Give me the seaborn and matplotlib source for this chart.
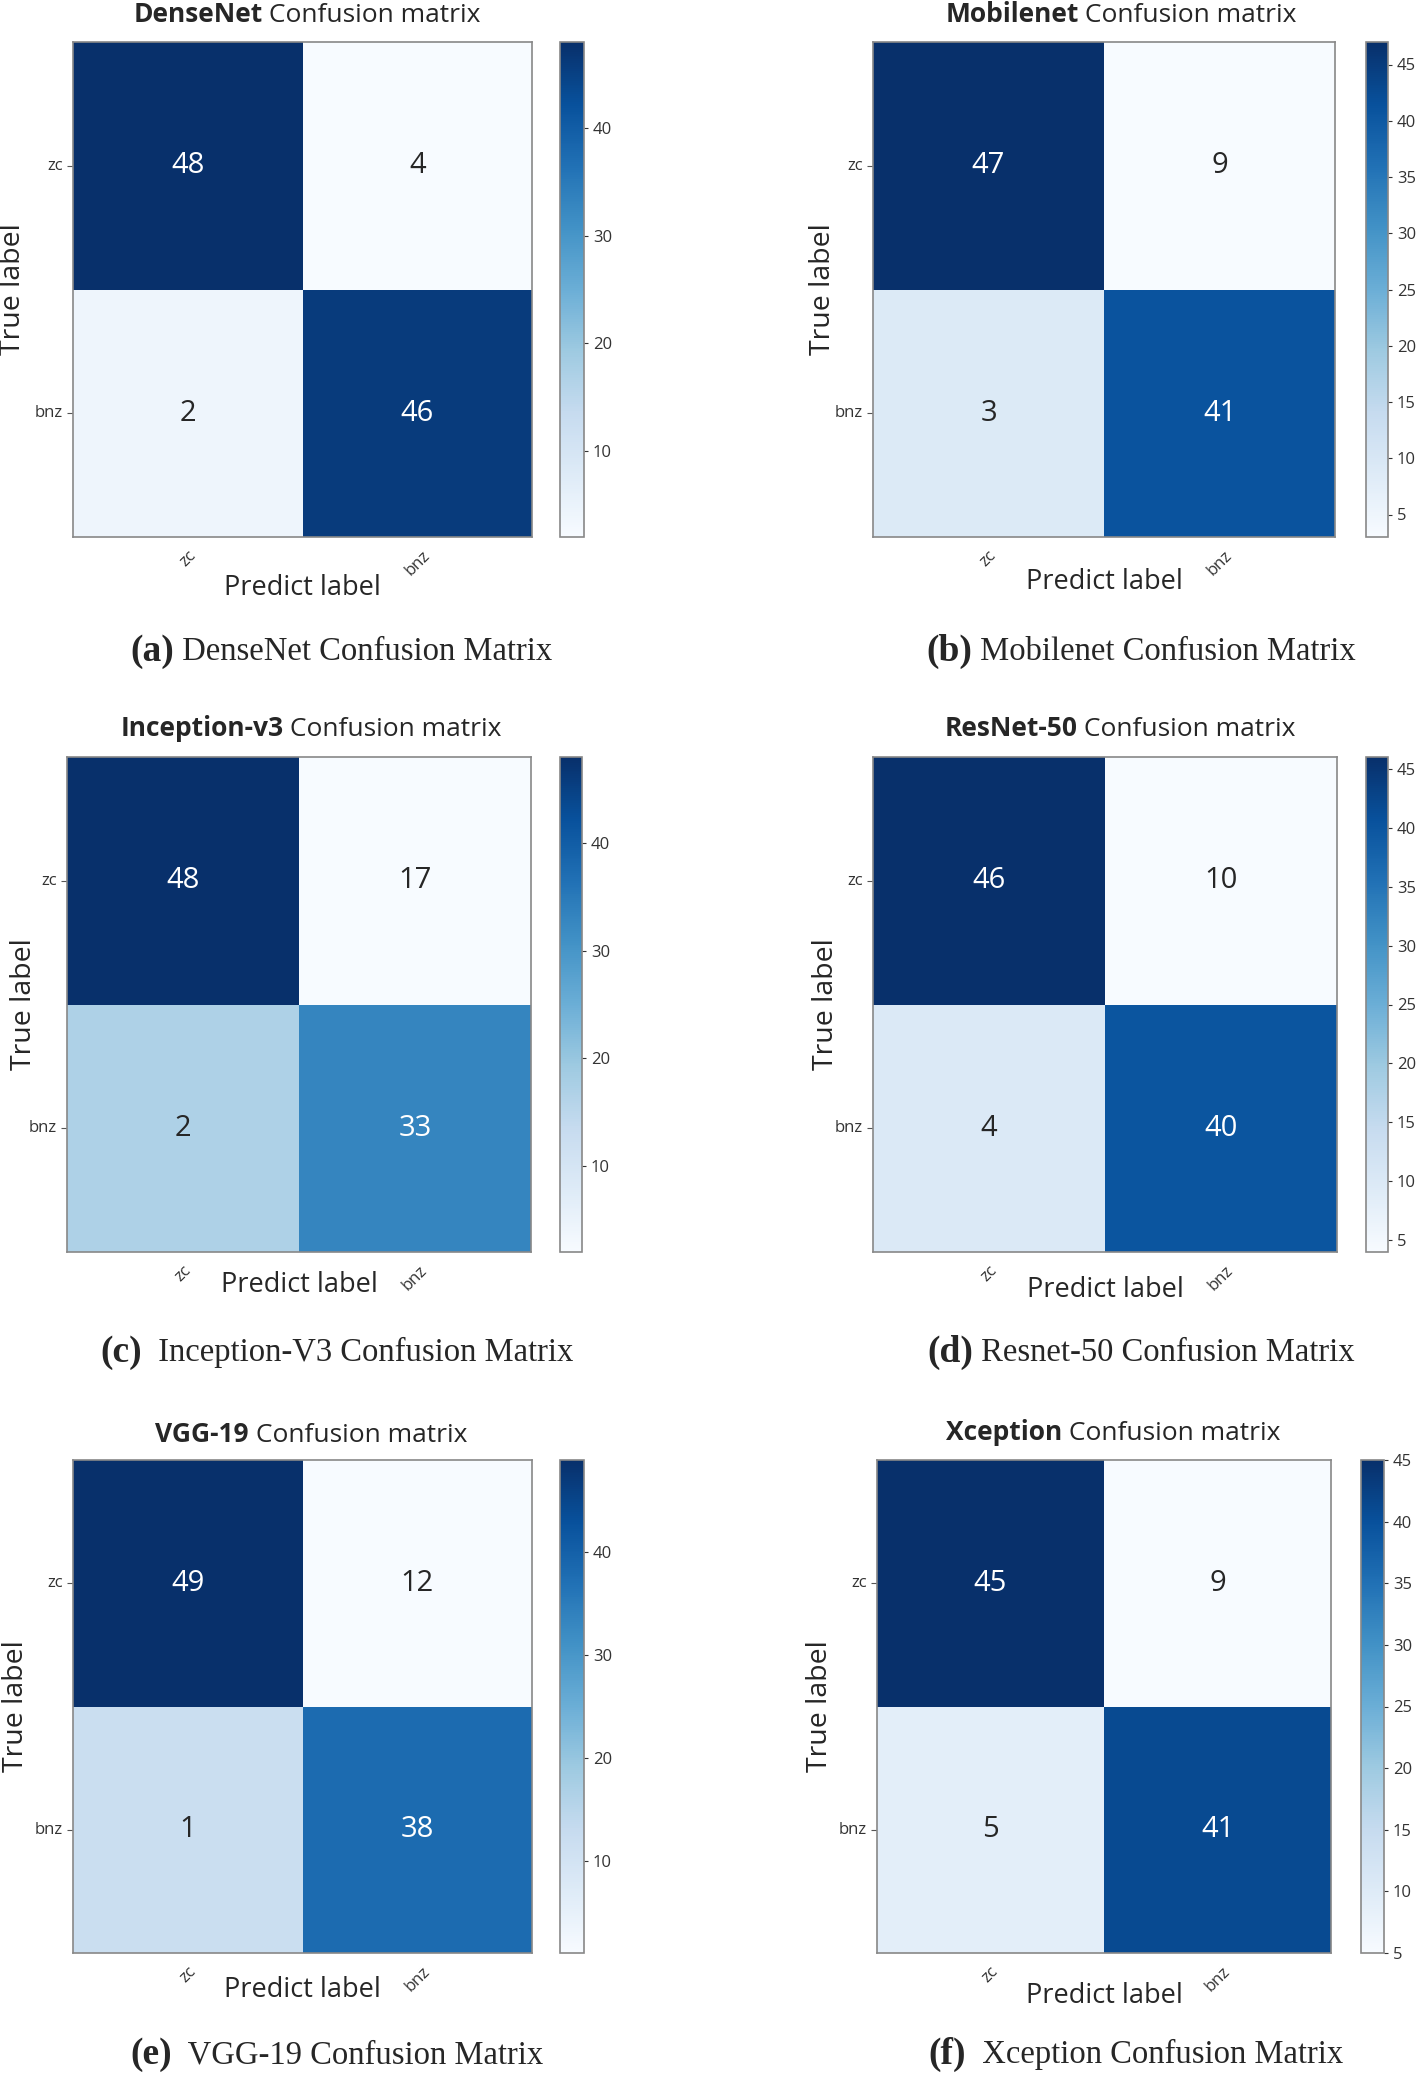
import numpy as np
import matplotlib
matplotlib.use("Agg")
import matplotlib.pyplot as plt
import seaborn as sns
from matplotlib.offsetbox import TextArea, HPacker, AnchoredOffsetbox
from matplotlib.ticker import MultipleLocator

classes = ["zc", "bnz"]
models = ["DenseNet", "Mobilenet", "Inception-v3", "ResNet-50", "VGG-19", "Xception"]
letters = ["(a)", "(b)", "(c)", "(d)", "(e)", "(f)"]
captions = ["DenseNet Confusion Matrix", "Mobilenet Confusion Matrix",
            "Inception-V3 Confusion Matrix", "Resnet-50 Confusion Matrix",
            "VGG-19 Confusion Matrix", "Xception Confusion Matrix"]

# numbers as printed in the cells (row = true label, col = predict label)
densenet = [[48, 4], [2, 46]]
mobilenet = [[47, 9], [3, 41]]
inception = [[48, 17], [2, 33]]
resnet = [[46, 10], [4, 40]]
vgg = [[49, 12], [1, 38]]
xception = [[45, 9], [5, 41]]
matrices = [densenet, mobilenet, inception, resnet, vgg, xception]
cbar_step = [10, 5, 10, 5, 10, 5]

W, H = 1416, 2076
sns.set_style("white")
plt.rcParams["font.family"] = ["Open Sans", "DejaVu Sans"]
fig = plt.figure(figsize=(W / 100, H / 100), dpi=100)

# layout in pixels: (left, top, right, bottom)
heat_px = [(73, 42, 532, 537), (873, 42, 1335, 537), (67, 757, 531, 1252),
           (873, 757, 1337, 1252), (73, 1460, 532, 1953), (877, 1460, 1331, 1953)]
cbar_px = [(560, 42, 584, 537), (1366, 42, 1388, 537), (560, 757, 582, 1252),
           (1366, 757, 1388, 1252), (560, 1460, 584, 1953), (1361, 1460, 1384, 1953)]
ylab_x = [13, 823, 24, 826, 16, 820]
xlab_y = [588, 582, 1285, 1290, 1990, 1996]
title_xy = [(307, 15), (1121, 15), (311, 728), (1120, 729), (311, 1435), (1113, 1433)]
cap_xy = [(341, 651), (1141, 651), (337, 1352), (1141, 1352), (337, 2054), (1136, 2054)]
cap_gap = [" ", " ", "  ", " ", "  ", "  "]


def px_axes(box):
    l, t, r, b = box
    return fig.add_axes([l / W, 1 - b / H, (r - l) / W, (b - t) / H])


def two_part(xy, first, rest, size, family, first_size=None):
    ta = TextArea(first, textprops=dict(fontsize=first_size or size, fontweight="bold", family=family))
    tb = TextArea(rest, textprops=dict(fontsize=size, family=family))
    box = HPacker(children=[ta, tb], align="baseline", pad=0, sep=0)
    anch = AnchoredOffsetbox(loc="center", child=box, pad=0, borderpad=0, frameon=False,
                             bbox_to_anchor=(xy[0] / W, 1 - xy[1] / H),
                             bbox_transform=fig.transFigure)
    fig.add_artist(anch)


for i, vals in enumerate(matrices):
    ax = px_axes(heat_px[i])
    cax = px_axes(cbar_px[i])
    shown = np.array(vals)
    # the original colours the cells from the transposed matrix
    sns.heatmap(shown.T, annot=shown, fmt="d", cmap="Blues", ax=ax, cbar_ax=cax,
                xticklabels=classes, yticklabels=classes, linewidths=0,
                annot_kws={"fontsize": 21})
    ax.set_xticklabels(classes, rotation=45, ha="center", fontsize=12, color="#333333")
    ax.set_yticklabels(classes, rotation=0, fontsize=12, color="#333333")
    ax.tick_params(left=True, bottom=False, length=4, width=0.8, color="#555555")
    for sp in ax.spines.values():
        sp.set_visible(True)
        sp.set_color("#888888")
        sp.set_linewidth(1.2)

    ax.set_ylabel("True label", fontsize=20.5)
    ax.yaxis.set_label_coords(ylab_x[i] / W, 1 - (heat_px[i][1] + heat_px[i][3]) / 2 / H,
                              transform=fig.transFigure)
    ax.yaxis.label.set_va("center")
    ax.set_xlabel("Predict label", fontsize=19.5)
    ax.xaxis.set_label_coords((heat_px[i][0] + heat_px[i][2]) / 2 / W, 1 - xlab_y[i] / H,
                              transform=fig.transFigure)
    ax.xaxis.label.set_va("center")

    cb = ax.collections[0].colorbar
    cb.locator = MultipleLocator(cbar_step[i])
    cb.update_ticks()
    cax.tick_params(labelsize=12, length=3, width=0.8, colors="#333333")
    cb.outline.set_edgecolor("#888888")
    cb.outline.set_linewidth(1.2)

    two_part(title_xy[i], models[i], " Confusion matrix", 19, ["Open Sans", "DejaVu Sans"])
    two_part(cap_xy[i], letters[i], cap_gap[i] + captions[i], 23.5, ["Liberation Serif"], first_size=27)

fig.savefig("out.png", dpi=100)
